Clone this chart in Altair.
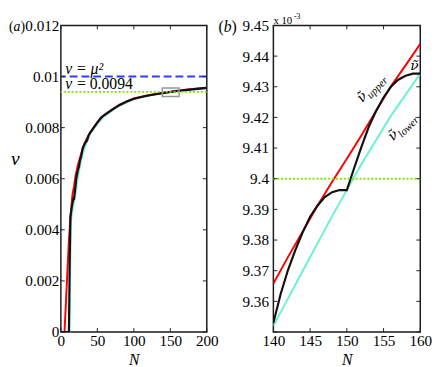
import altair as alt
import pandas as pd

FONT = "Liberation Serif"
GFONT = "DejaVu Serif"

# ---------------- panel (a) data ----------------
a_black_N = [0, 11, 12, 13, 15, 17, 18, 20, 21, 23, 25, 26, 28, 30, 33, 36, 38, 40, 45, 50, 55, 60,
             65, 70, 80, 90, 100, 110, 120, 130, 140, 150, 160, 170, 180, 190, 200]
a_black_v = [0, 0, 0.0025, 0.0045, 0.0049, 0.0052, 0.0052, 0.0057, 0.0060, 0.0063, 0.0065, 0.0067,
             0.0069, 0.0072, 0.0074, 0.0075, 0.0077, 0.0078, 0.0080, 0.0082, 0.0084, 0.0085,
             0.0086, 0.0087, 0.00888, 0.00902, 0.00913, 0.00920, 0.00926, 0.00931, 0.009353,
             0.009397, 0.009434, 0.00947, 0.0095, 0.00953, 0.00956]

a_red_N = [5, 8, 11, 14, 16, 18, 20, 23, 26, 30, 35, 40, 50, 60, 70, 80, 100, 120, 140, 160, 180, 200]
a_red_v = [0, 0.0018, 0.0036, 0.0048, 0.0054, 0.0057, 0.0061, 0.0065, 0.0068, 0.0072, 0.00755,
           0.0078, 0.00822, 0.00851, 0.00871, 0.00889, 0.00914, 0.00927, 0.009366, 0.009444,
           0.00951, 0.00956]

a_cyan_N = [12, 13, 14, 16, 18, 20, 23, 26, 30, 35, 40, 50, 60, 70, 80, 100, 120, 140, 160, 180, 200]
a_cyan_v = [0, 0.0030, 0.0044, 0.0048, 0.0051, 0.0054, 0.0060, 0.0065, 0.0070, 0.0074, 0.00775,
            0.00816, 0.00846, 0.00866, 0.00885, 0.00911, 0.00925, 0.009352, 0.009434, 0.00949,
            0.00955]

nu_mu2 = 0.01
nu_const = 0.0094
box_N = [139, 162]
box_v = [0.00922, 0.00955]

a_xticks = [0, 50, 100, 150, 200]
a_yticks = [0, 0.002, 0.004, 0.006, 0.008, 0.01, 0.012]

# ---------------- panel (b) data (units of 1e-3) ----------------
b_black_N = [140, 141, 142, 143, 144, 145, 146, 147, 148, 149, 150, 151, 152, 153, 154, 155,
             156, 157, 158, 159, 160]
b_black_v = [9.353, 9.3625, 9.3703, 9.3768, 9.3826, 9.3876, 9.3912, 9.3940, 9.3956, 9.3963,
             9.3963, 9.4035, 9.4105, 9.4170, 9.4222, 9.4265, 9.4300, 9.4323, 9.4336, 9.4343,
             9.4343]

b_red_N = [140, 142, 144, 146, 148, 150, 152, 154, 156, 158, 160]
b_red_v = [9.3658, 9.3745, 9.3828, 9.3912, 9.3990, 9.4065, 9.4142, 9.4222, 9.4302, 9.4370, 9.4440]

b_cyan_N = [140, 144, 148, 150, 152, 156, 160]
b_cyan_v = [9.352, 9.370, 9.3878, 9.3963, 9.4048, 9.4205, 9.4343]

b_const = 9.40
b_xticks = [140, 145, 150, 155, 160]
b_yticks = [9.35, 9.36, 9.37, 9.38, 9.39, 9.4, 9.41, 9.42, 9.43, 9.44, 9.45]
b_ylabels = [9.36, 9.37, 9.38, 9.39, 9.4, 9.41, 9.42, 9.43, 9.44, 9.45]

lab_upper = (152.1, 9.4247)
lab_lower = (156.3, 9.4122)
lab_tilde = (159.2, 9.4366)

W1, H1 = 149, 313
W2, H2 = 150, 313

BLACK = "#111111"
RED = "#ff0000"
CYAN = "#6cf0d6"
BLUE = "#2f3dff"
GREEN = "#7ae600"

axis_common = dict(grid=False, ticks=False, domain=False, labelFont=FONT, labelFontSize=15.5,
                   labelColor="black", labelFlush=False, labelOverlap=False, titleFont=FONT,
                   titleColor="black", titleFontWeight="normal", titleFontStyle="italic")


class P:
    def __init__(self, xs, ys, xax, yax, W, H):
        self.xs, self.ys, self.xax, self.yax, self.W, self.H = xs, ys, xax, yax, W, H

    def X(self, f="N:Q"):
        return alt.X(f, scale=self.xs, axis=self.xax)

    def Y(self, f="v:Q"):
        return alt.Y(f, scale=self.ys, axis=self.yax)

    def line(self, N, v, color, width=2.0):
        df = pd.DataFrame({"N": N, "v": v})
        return alt.Chart(df).mark_line(color=color, strokeWidth=width, clip=True).encode(
            x=self.X(), y=self.Y())

    def hrule(self, val, color, dash):
        df = pd.DataFrame({"v": [val]})
        return alt.Chart(df).mark_rule(color=color, strokeWidth=2, strokeDash=dash).encode(
            y=self.Y())

    def ticks(self, xvals, yvals, L=4):
        dx = pd.DataFrame({"N": xvals})
        dy = pd.DataFrame({"v": yvals})
        c = "#222222"
        W, H = self.W, self.H
        return [
            alt.Chart(dy).mark_rule(color=c, strokeWidth=1).encode(
                y=self.Y(), x=alt.value(0), x2=alt.value(L)),
            alt.Chart(dy).mark_rule(color=c, strokeWidth=1).encode(
                y=self.Y(), x=alt.value(W - L), x2=alt.value(W)),
            alt.Chart(dx).mark_rule(color=c, strokeWidth=1).encode(
                x=self.X(), y=alt.value(H - L), y2=alt.value(H)),
            alt.Chart(dx).mark_rule(color=c, strokeWidth=1).encode(
                x=self.X(), y=alt.value(0), y2=alt.value(L)),
        ]

    def dtext(self, t, N, v, size, style="italic", align="left", baseline="alphabetic",
              angle=0, dx=0, dy=0, font=FONT):
        df = pd.DataFrame({"t": [t], "N": [N], "v": [v]})
        return alt.Chart(df).mark_text(font=font, fontSize=size, fontStyle=style, align=align,
                                       baseline=baseline, angle=angle, dx=dx, dy=dy,
                                       color="black").encode(
            text="t:N", x=self.X(), y=self.Y())


def ptext(t, x, y, size, style="normal", align="left", baseline="middle"):
    df = pd.DataFrame({"t": [t]})
    return alt.Chart(df).mark_text(font=FONT, fontSize=size, fontStyle=style, align=align,
                                   baseline=baseline, color="black").encode(
        text="t:N", x=alt.value(x), y=alt.value(y))


xtitle = dict(title="N", titleFontSize=16, labelPadding=2, titleY=33,
              titleBaseline="alphabetic")

# ---------------- panel (a) ----------------
pa = P(alt.Scale(domain=[0, 200], nice=False, zero=False),
       alt.Scale(domain=[0, 0.012], nice=False, zero=False),
       alt.Axis(values=a_xticks, **xtitle, **axis_common),
       alt.Axis(values=a_yticks, format="~g", title="ν", titleFontSize=20, titleAngle=0,
                titleX=-47, titleY=136, titleAlign="center", titleBaseline="middle",
                labelPadding=2, **axis_common),
       W1, H1)

box_df = pd.DataFrame({"N": [box_N[0]], "N2": [box_N[1]], "v": [box_v[0]], "v2": [box_v[1]]})
box = alt.Chart(box_df).mark_rect(fill=None, fillOpacity=0, stroke="#8f9a98", strokeWidth=1.5).encode(
    x=pa.X(), x2="N2:Q", y=pa.Y(), y2="v2:Q")

panel_a = alt.layer(
    pa.line(a_cyan_N, a_cyan_v, CYAN, 2.0),
    pa.line(a_red_N, a_red_v, RED, 2.0),
    pa.line(a_black_N, a_black_v, BLACK, 2.2),
    pa.hrule(nu_mu2, BLUE, [8, 4]),
    pa.hrule(nu_const, GREEN, [2, 2]),
    box,
    *pa.ticks(a_xticks, a_yticks),
    pa.dtext("ν = μ²", 6, nu_mu2, 16, style="italic", dy=-3),
    pa.dtext("ν", 6, nu_const, 16, style="italic", dy=-3),
    pa.dtext("= 0.0094", 6, nu_const, 16, style="normal", dx=12, dy=-3),
    ptext("(", -53, 2, 14),
    ptext("a", -48.3, 2, 14, style="italic"),
    ptext(")", -41.3, 2, 14),
).properties(width=W1, height=H1)

# ---------------- panel (b) ----------------
pb = P(alt.Scale(domain=[140, 160], nice=False, zero=False),
       alt.Scale(domain=[9.35, 9.45], nice=False, zero=False),
       alt.Axis(values=b_xticks, **xtitle, **axis_common),
       alt.Axis(values=b_ylabels, format="~g", title=None, labelPadding=5, **axis_common),
       W2, H2)

panel_b = alt.layer(
    pb.line(b_cyan_N, b_cyan_v, CYAN, 2.0),
    pb.line(b_red_N, b_red_v, RED, 2.0),
    pb.line(b_black_N, b_black_v, BLACK, 2.2),
    pb.hrule(b_const, GREEN, [2, 2]),
    *pb.ticks(b_xticks, b_yticks),
    pb.dtext("ν̃", lab_upper[0], lab_upper[1], 14, angle=313, font=GFONT),
    pb.dtext("upper", lab_upper[0], lab_upper[1], 11, angle=313, dx=9, dy=4),
    pb.dtext("ν̃", lab_lower[0], lab_lower[1], 14, angle=315, font=GFONT),
    pb.dtext("lower", lab_lower[0], lab_lower[1], 11, angle=315, dx=9, dy=4),
    pb.dtext("ν̃", lab_tilde[0], lab_tilde[1], 14, align="center", baseline="middle", font=GFONT),
    ptext("(", -56, 2, 16),
    ptext("b", -50.7, 2, 16, style="italic"),
    ptext(")", -42.7, 2, 16),
    ptext("x 10", 0, -11, 11, baseline="top"),
    ptext("-3", 21, -13, 8, baseline="top"),
).properties(width=W2, height=H2)

chart = alt.hconcat(panel_a, panel_b, spacing=68, bounds="flush",
                    padding={"left": 0, "top": 0, "right": 0, "bottom": 0}).configure_view(
    stroke="#1a1a1a", strokeWidth=1.5)

chart.save("out.html", embed_options={"renderer": "svg", "actions": False})
